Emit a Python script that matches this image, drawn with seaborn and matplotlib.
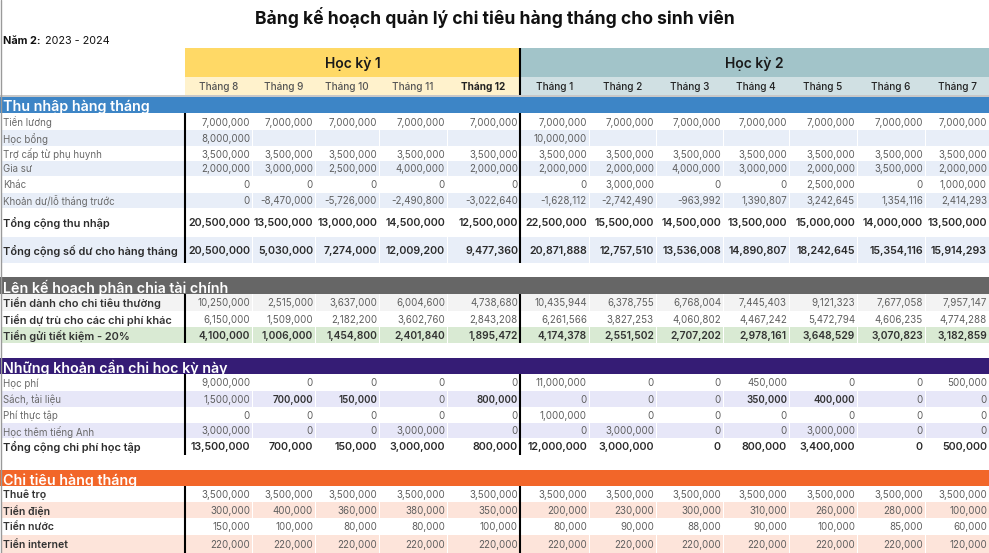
import matplotlib.pyplot as plt
import seaborn as sns
from matplotlib.patches import Rectangle

sns.set_theme(style="white")
plt.rcParams['font.family'] = ['Inter', 'DejaVu Sans']

# ---- data ----
title = "Bảng kế hoạch quản lý chi tiêu hàng tháng cho sinh viên"
nam_hoc = "2023 - 2024"
hoc_ky = ["Học kỳ 1", "Học kỳ 2"]
thang = ["Tháng 8", "Tháng 9", "Tháng 10", "Tháng 11", "Tháng 12", "Tháng 1",
         "Tháng 2", "Tháng 3", "Tháng 4", "Tháng 5", "Tháng 6", "Tháng 7"]

# Thu nhập hàng tháng
tien_luong = [7000000, 7000000, 7000000, 7000000, 7000000, 7000000,
              7000000, 7000000, 7000000, 7000000, 7000000, 7000000]
hoc_bong = [8000000, None, None, None, None, 10000000,
            None, None, None, None, None, None]
tro_cap = [3500000, 3500000, 3500000, 3500000, 3500000, 3500000,
           3500000, 3500000, 3500000, 3500000, 3500000, 3500000]
gia_su = [2000000, 3000000, 2500000, 4000000, 2000000, 2000000,
          2000000, 4000000, 3000000, 2000000, 3500000, 2000000]
khac = [0, 0, 0, 0, 0, 0, 3000000, 0, 0, 2500000, 0, 1000000]
du_lo = [0, -8470000, -5726000, -2490800, -3022640, -1628112,
         -2742490, -963992, 1390807, 3242645, 1354116, 2414293]
tong_thu_nhap = [20500000, 13500000, 13000000, 14500000, 12500000, 22500000,
                 15500000, 14500000, 13500000, 15000000, 14000000, 13500000]
tong_so_du = [20500000, 5030000, 7274000, 12009200, 9477360, 20871888,
              12757510, 13536008, 14890807, 18242645, 15354116, 15914293]

# Lên kế hoạch phân chia tài chính
chi_tieu_thuong = [10250000, 2515000, 3637000, 6004600, 4738680, 10435944,
                   6378755, 6768004, 7445403, 9121323, 7677058, 7957147]
du_tru = [6150000, 1509000, 2182200, 3602760, 2843208, 6261566,
          3827253, 4060802, 4467242, 5472794, 4606235, 4774288]
tiet_kiem = [4100000, 1006000, 1454800, 2401840, 1895472, 4174378,
             2551502, 2707202, 2978161, 3648529, 3070823, 3182859]

# Những khoản cần chi học kỳ này
hoc_phi = [9000000, 0, 0, 0, 0, 11000000, 0, 0, 450000, 0, 0, 500000]
sach = [1500000, 700000, 150000, 0, 800000, 0, 0, 0, 350000, 400000, 0, 0]
phi_thuc_tap = [0, 0, 0, 0, 0, 1000000, 0, 0, 0, 0, 0, 0]
tieng_anh = [3000000, 0, 0, 3000000, 0, 0, 3000000, 0, 0, 3000000, 0, 0]
tong_hoc_tap = [13500000, 700000, 150000, 3000000, 800000, 12000000,
                3000000, 0, 800000, 3400000, 0, 500000]

# Chi tiêu hàng tháng
thue_tro = [3500000, 3500000, 3500000, 3500000, 3500000, 3500000,
            3500000, 3500000, 3500000, 3500000, 3500000, 3500000]
tien_dien = [300000, 400000, 360000, 380000, 350000, 200000,
             230000, 300000, 310000, 260000, 280000, 100000]
tien_nuoc = [150000, 100000, 80000, 80000, 100000, 80000,
             90000, 88000, 90000, 100000, 85000, 60000]
tien_internet = [220000, 220000, 220000, 220000, 220000, 220000,
                 220000, 220000, 220000, 220000, 220000, 120000]

# ---- layout (pixel grid of the sheet) ----
W, H = 989, 553
col_edges = [185, 252, 315, 379, 447, 520, 589, 656, 723, 789, 857, 925, 989]
GRAY_TXT = "#5f5f5f"

fig = plt.figure(figsize=(W / 100, H / 100), dpi=100)
ax = fig.add_axes([0, 0, 1, 1])
ax.set_xlim(0, W)
ax.set_ylim(H, 0)
ax.axis('off')


def fmt(v):
    if v is None:
        return ""
    return f"{v:,}"


def rect(x0, y0, x1, y1, color):
    r = Rectangle((x0, y0), x1 - x0, y1 - y0, facecolor=color,
                  edgecolor='none', linewidth=0)
    ax.add_patch(r)
    return r


# title
ax.text(W / 2, 17, title, ha='center', va='center', fontsize=12.6,
        fontweight='bold', color='#111111')
ax.text(3, 41, "Năm 2:", ha='left', va='center', fontsize=7.8,
        fontweight='bold', color='#111111')
ax.text(45, 41, nam_hoc, ha='left', va='center', fontsize=7.8, color='#111111')

# semester header
sem_cols = [(0, 5, "#FFD966", "#FFF2CC"), (5, 12, "#A2C4C9", "#D0E0E3")]
for (c0, c1, dark, light), name in zip(sem_cols, hoc_ky):
    x0, x1 = col_edges[c0], col_edges[c1]
    rect(x0, 48, x1, 77, dark)
    rect(x0, 77, x1, 95, light)
    ax.text((x0 + x1) / 2, 64, name, ha='center', va='center',
            fontsize=10, fontweight='semibold', color='#1a1a1a')
for i, m in enumerate(thang):
    cx = (col_edges[i] + col_edges[i + 1]) / 2
    bold = m == "Tháng 12"
    color = "#222222" if (bold or i >= 5) else "#555555"
    ax.text(cx, 86.5, m, ha='center', va='center', fontsize=7.2,
            fontweight='bold' if bold else 'medium', color=color)
rect(0, 95, W, 97, "#c8c8c8")

# sections: (title, band colour, y0, y1, rows)
# rows: (label, values, y0, y1, bg, label style, value style)
sections = [
    ("Thu nhập hàng tháng", "#3D85C6", 97, 113, [
        ("Tiền lương", tien_luong, 113, 130, "white", "n", "n"),
        ("Học bổng", hoc_bong, 130, 146, "#E8EEF8", "n", "n"),
        ("Trợ cấp từ phụ huynh", tro_cap, 146, 161, "white", "n", "n"),
        ("Gia sư", gia_su, 161, 176, "#E8EEF8", "n", "n"),
        ("Khác", khac, 176, 193, "white", "n", "n"),
        ("Khoản dư/lỗ tháng trước", du_lo, 193, 208, "#E8EEF8", "n", "n"),
        ("Tổng cộng thu nhập", tong_thu_nhap, 208, 237, "white", "T", "T"),
        ("Tổng cộng số dư cho hàng tháng", tong_so_du, 237, 263, "#E8EEF8", "T", "T"),
    ]),
    ("Lên kế hoạch phân chia tài chính", "#666666", 277, 294, [
        ("Tiền dành cho chi tiêu thường", chi_tieu_thuong, 294, 311, "#F3F3F3", "b", "n"),
        ("Tiền dự trù cho các chi phí khác", du_tru, 311, 327, "white", "b", "n"),
        ("Tiền gửi tiết kiệm - 20%", tiet_kiem, 327, 343, "#D9EAD3", "b", "b"),
    ]),
    ("Những khoản cần chi học kỳ này", "#351C75", 358, 374, [
        ("Học phí", hoc_phi, 374, 391, "white", "n", "n"),
        ("Sách, tài liệu", sach, 391, 407, "#E7E7F8", "n", "n"),
        ("Phí thực tập", phi_thuc_tap, 407, 423, "white", "n", "n"),
        ("Học thêm tiếng Anh", tieng_anh, 423, 438, "#E7E7F8", "n", "n"),
        ("Tổng cộng chi phí học tập", tong_hoc_tap, 438, 455, "white", "T", "T"),
    ]),
    ("Chi tiêu hàng tháng", "#F26629", 470, 486, [
        ("Thuê trọ", thue_tro, 486, 502, "white", "s", "n"),
        ("Tiền điện", tien_dien, 502, 518, "#FDE4DA", "s", "n"),
        ("Tiền nước", tien_nuoc, 518, 535, "white", "s", "n"),
        ("Tiền internet", tien_internet, 535, 553, "#FDE4DA", "s", "n"),
    ]),
]

label_style = {
    "n": dict(fontsize=7.0, color="#6a6a6a", fontweight='normal'),
    "b": dict(fontsize=7.9, color="#333333", fontweight='semibold'),
    "s": dict(fontsize=7.6, color="#333333", fontweight='semibold'),
    "T": dict(fontsize=7.9, color="#2b2b2b", fontweight='semibold'),
}
value_style = {
    "n": dict(fontsize=7.0, color=GRAY_TXT, fontweight='normal'),
    "b": dict(fontsize=7.4, color="#333333", fontweight='semibold'),
    "T": dict(fontsize=7.7, color="#2b2b2b", fontweight='semibold'),
}

for sec_title, band, by0, by1, rows in sections:
    band_rect = rect(0, by0, W, by1, band)
    t = ax.text(3, by1 - 1.5, sec_title, ha='left', va='baseline', fontsize=10.3,
                fontweight='semibold', color='white')
    t.set_clip_path(band_rect)
    for label, vals, y0, y1, bg, ls, vs in rows:
        if bg != "white":
            rect(1, y0, col_edges[0], y1, bg)
            for i in range(12):
                rect(col_edges[i] + 0.5, y0, col_edges[i + 1] - 0.5, y1, bg)
        yc = (y0 + y1) / 2 + 1
        ax.text(3, yc, label, ha='left', va='center', **label_style[ls])
        for i, v in enumerate(vals):
            st = dict(value_style[vs])
            if label == "Sách, tài liệu" and i > 0 and v:
                st.update(fontweight='semibold', color="#333333")
            ax.text(col_edges[i + 1] - 2, yc, fmt(v), ha='right', va='center', **st)
    # thick vertical separators through the data rows
    ytop, ybot = rows[0][2], rows[-1][3]
    for x in (col_edges[0], col_edges[5]):
        ax.plot([x, x], [ytop, ybot], color='black', lw=1.5, solid_capstyle='butt')

# semester divider through the header
ax.plot([col_edges[5], col_edges[5]], [48, 95], color='black', lw=1.5,
        solid_capstyle='butt')
# sheet left border
ax.plot([0.5, 0.5], [0, H], color='#9a9a9a', lw=1)

fig.savefig("out.png", dpi=100)
